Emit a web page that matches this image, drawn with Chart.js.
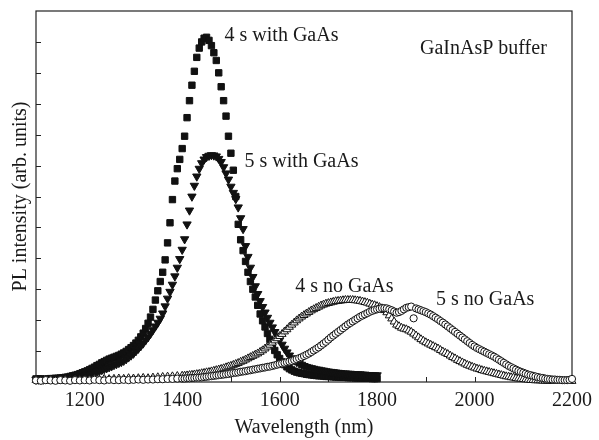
<!DOCTYPE html>
<html>
<head>
<meta charset="utf-8">
<script src="https://cdn.jsdelivr.net/npm/chart.js@4.4.1/dist/chart.umd.min.js"></script>
<style>
html,body{margin:0;padding:0;background:#fff;}
canvas{display:block;}
</style>
</head>
<body>
<canvas id="c" width="599" height="440"></canvas>
<script>
// ---- data ----
const wlFilled = [
  1100,1105,1110,1115,1120,1125,1130,1135,1140,1145,1150,1155,1160,1165,1170,1175,1180,1185,1190,1195,
  1200,1205,1210,1215,1220,1225,1230,1235,1240,1245,1250,1255,1260,1265,1270,1275,1280,1285,1290,1295,
  1300,1305,1310,1315,1320,1325,1330,1335,1340,1345,1350,1355,1360,1365,1370,1375,1380,1385,1390,1395,
  1400,1405,1410,1415,1420,1425,1430,1435,1440,1445,1450,1455,1460,1465,1470,1475,1480,1485,1490,1495,
  1500,1505,1510,1515,1520,1525,1530,1535,1540,1545,1550,1555,1560,1565,1570,1575,1580,1585,1590,1595,
  1600,1605,1610,1615,1620,1625,1630,1635,1640,1645,1650,1655,1660,1665,1670,1675,1680,1685,1690,1695,
  1700,1705,1710,1715,1720,1725,1730,1735,1740,1745,1750,1755,1760,1765,1770,1775,1780,1785,1790,1795,
  1800];

const s4WithGaAs = [
  0.10,0.10,0.10,0.09,0.09,0.10,0.11,0.11,0.12,0.12,0.13,0.14,0.15,0.16,0.18,0.20,0.22,0.24,0.27,0.30,
  0.33,0.36,0.40,0.44,0.48,0.53,0.57,0.62,0.66,0.70,0.74,0.77,0.80,0.83,0.86,0.90,0.94,0.99,1.05,1.11,
  1.18,1.26,1.35,1.46,1.58,1.73,1.90,2.10,2.35,2.65,2.95,3.25,3.55,3.95,4.50,5.15,5.90,6.50,6.90,7.20,
  7.55,7.95,8.55,9.10,9.60,10.05,10.50,10.80,11.00,11.12,11.15,11.05,10.88,10.65,10.40,10.00,9.55,9.10,8.60,7.95,
  7.40,6.85,6.00,5.10,4.60,4.25,3.90,3.55,3.25,3.00,2.75,2.48,2.20,1.98,1.78,1.57,1.38,1.19,1.02,0.88,
  0.76,0.65,0.56,0.49,0.43,0.39,0.35,0.32,0.30,0.28,0.27,0.25,0.24,0.23,0.22,0.21,0.20,0.20,0.19,0.18,
  0.18,0.17,0.17,0.16,0.16,0.15,0.15,0.15,0.14,0.14,0.14,0.13,0.13,0.13,0.12,0.12,0.12,0.12,0.11,0.11,
  0.11];

const s5WithGaAs = [
  0.08,0.08,0.08,0.08,0.09,0.09,0.09,0.09,0.10,0.10,0.10,0.10,0.11,0.11,0.12,0.12,0.13,0.14,0.16,0.18,
  0.21,0.23,0.26,0.28,0.31,0.33,0.36,0.39,0.42,0.45,0.48,0.51,0.55,0.58,0.62,0.65,0.69,0.74,0.80,0.86,
  0.92,1.00,1.08,1.16,1.25,1.35,1.45,1.56,1.68,1.80,1.92,2.05,2.22,2.45,2.70,2.92,3.15,3.42,3.70,3.98,
  4.28,4.62,5.10,5.55,6.00,6.35,6.65,6.90,7.08,7.20,7.28,7.32,7.34,7.33,7.30,7.22,7.12,6.95,6.75,6.55,
  6.32,6.12,5.92,5.65,5.30,4.95,4.40,4.05,3.70,3.40,3.10,2.85,2.62,2.43,2.25,2.08,1.92,1.77,1.62,1.48,
  1.35,1.21,1.08,0.96,0.86,0.77,0.70,0.65,0.60,0.56,0.52,0.49,0.47,0.45,0.43,0.41,0.40,0.38,0.37,0.35,
  0.34,0.33,0.32,0.31,0.30,0.29,0.28,0.28,0.27,0.27,0.26,0.26,0.25,0.25,0.24,0.24,0.23,0.23,0.22,0.22,
  0.22];

const wlOpen = [
  1100,1110,1120,1130,1140,1150,1160,1170,1180,1190,1200,1210,1220,1230,1240,1250,1260,1270,1280,1290,
  1300,1310,1320,1330,1340,1350,1360,1370,1380,1390,
  1400,1405,1410,1415,1420,1425,1430,1435,1440,1445,1450,1455,1460,1465,1470,1475,1480,1485,1490,1495,
  1500,1505,1510,1515,1520,1525,1530,1535,1540,1545,1550,1555,1560,1565,1570,1575,1580,1585,1590,1595,
  1600,1605,1610,1615,1620,1625,1630,1635,1640,1645,1650,1655,1660,1665,1670,1675,1680,1685,1690,1695,
  1700,1705,1710,1715,1720,1725,1730,1735,1740,1745,1750,1755,1760,1765,1770,1775,1780,1785,1790,1795,
  1800,1805,1810,1815,1820,1825,1830,1835,1840,1845,1850,1855,1860,1865,1870,1875,1880,1885,1890,1895,
  1900,1905,1910,1915,1920,1925,1930,1935,1940,1945,1950,1955,1960,1965,1970,1975,1980,1985,1990,1995,
  2000,2005,2010,2015,2020,2025,2030,2035,2040,2045,2050,2055,2060,2065,2070,2075,2080,2085,2090,2095,
  2100,2105,2110,2115,2120,2125,2130,2135,2140,2145,2150,2155,2160,2165,2170,2175,2180,2185,2190,2195,
  2200];

const s4NoGaAs = [
  0.06,0.04,0.05,0.06,0.04,0.05,0.06,0.05,0.07,0.06,0.08,0.07,0.09,0.08,0.10,0.09,0.10,0.11,0.10,0.12,
  0.11,0.12,0.13,0.12,0.14,0.15,0.16,0.17,0.18,0.19,
  0.20,0.20,0.21,0.22,0.23,0.24,0.25,0.26,0.28,0.29,0.31,0.32,0.34,0.36,0.38,0.40,0.42,0.44,0.47,0.50,
  0.52,0.55,0.58,0.61,0.65,0.68,0.72,0.76,0.80,0.84,0.88,0.92,0.97,1.02,1.08,1.14,1.20,1.27,1.34,1.41,
  1.48,1.55,1.63,1.70,1.78,1.85,1.92,1.99,2.05,2.11,2.16,2.21,2.26,2.31,2.35,2.39,2.43,2.47,2.50,2.53,
  2.55,2.57,2.59,2.61,2.62,2.63,2.64,2.65,2.65,2.65,2.65,2.64,2.63,2.62,2.60,2.58,2.56,2.53,2.50,2.48,
  2.45,2.42,2.38,2.32,2.25,2.15,2.05,1.95,1.85,1.80,1.75,1.72,1.70,1.66,1.62,1.56,1.50,1.44,1.38,1.33,
  1.28,1.24,1.20,1.16,1.12,1.08,1.03,0.98,0.94,0.90,0.85,0.80,0.76,0.71,0.67,0.63,0.59,0.55,0.52,0.49,
  0.46,0.43,0.41,0.38,0.36,0.34,0.32,0.30,0.28,0.26,0.24,0.22,0.20,0.18,0.17,0.15,0.14,0.12,0.11,0.10,
  0.09,0.08,0.07,0.06,0.06,0.05,0.05,0.05,0.04,0.04,0.04,0.04,0.03,0.03,0.03,0.03,0.03,0.03,0.03,0.03,
  0.03];

const s5NoGaAs = [
  0.05,0.04,0.06,0.05,0.04,0.06,0.05,0.04,0.06,0.05,0.06,0.05,0.07,0.06,0.05,0.07,0.06,0.06,0.07,0.06,
  0.07,0.08,0.07,0.08,0.08,0.09,0.09,0.10,0.10,0.11,
  0.11,0.11,0.12,0.12,0.13,0.13,0.14,0.14,0.15,0.16,0.17,0.18,0.19,0.20,0.21,0.22,0.23,0.24,0.25,0.26,
  0.28,0.29,0.30,0.31,0.33,0.34,0.35,0.37,0.38,0.40,0.41,0.43,0.44,0.46,0.47,0.49,0.50,0.52,0.54,0.56,
  0.58,0.60,0.62,0.64,0.66,0.68,0.71,0.74,0.77,0.80,0.84,0.88,0.92,0.97,1.02,1.07,1.12,1.18,1.24,1.30,
  1.37,1.44,1.50,1.56,1.62,1.68,1.74,1.80,1.86,1.91,1.96,2.01,2.06,2.11,2.15,2.19,2.23,2.27,2.30,2.33,
  2.35,2.37,2.39,2.39,2.38,2.35,2.32,2.28,2.24,2.26,2.30,2.35,2.40,2.42,2.44,2.06,2.38,2.35,2.32,2.29,
  2.26,2.22,2.18,2.13,2.08,2.03,1.97,1.92,1.86,1.80,1.74,1.68,1.62,1.56,1.50,1.44,1.38,1.32,1.26,1.20,
  1.15,1.10,1.06,1.02,0.98,0.94,0.90,0.86,0.82,0.77,0.72,0.67,0.62,0.57,0.52,0.48,0.44,0.40,0.36,0.33,
  0.30,0.27,0.24,0.22,0.20,0.18,0.16,0.14,0.13,0.11,0.10,0.09,0.08,0.08,0.07,0.07,0.06,0.06,0.06,0.07,
  0.10];

const xTickLabels = [1200,1400,1600,1800,2000,2200];

const labels = [
  {text:'4 s with GaAs', x:1487, y:11.03},
  {text:'5 s with GaAs', x:1528, y:6.94},
  {text:'GaInAsP buffer', x:1888, y:10.6},
  {text:'4 s no GaAs', x:1632, y:2.9},
  {text:'5 s no GaAs', x:1921, y:2.48}
];

// ---- chart ----
const toPts = (xs, ys) => xs.map((x, i) => ({x: x, y: ys[i]}));
const FONT = "'Liberation Serif', 'Times New Roman', serif";
Chart.defaults.font.family = FONT;
Chart.defaults.color = '#1a1a1a';

const frameTicks = {
  id: 'frameTicks',
  beforeDatasetsDraw(chart) {
    const {ctx, chartArea: a, scales: {x, y}} = chart;
    ctx.save();
    ctx.strokeStyle = '#222';
    ctx.lineWidth = 1.2;
    ctx.strokeRect(a.left, a.top, a.right - a.left, a.bottom - a.top);
    ctx.lineWidth = 1;
    ctx.beginPath();
    x.ticks.forEach(t => {
      const px = Math.round(x.getPixelForValue(t.value)) + 0.5;
      if (px <= a.left + 2 || px >= a.right - 2) return;
      ctx.moveTo(px, a.bottom);
      ctx.lineTo(px, a.bottom - 5);
    });
    y.ticks.forEach(t => {
      const py = Math.round(y.getPixelForValue(t.value)) + 0.5;
      if (py <= a.top + 2 || py >= a.bottom - 2) return;
      ctx.moveTo(a.left, py);
      ctx.lineTo(a.left + 5, py);
    });
    ctx.stroke();
    ctx.restore();
  },
  afterDatasetsDraw(chart) {
    const {ctx, scales: {x, y}} = chart;
    ctx.save();
    ctx.font = '20px ' + FONT;
    ctx.fillStyle = '#1a1a1a';
    ctx.textAlign = 'left';
    ctx.textBaseline = 'alphabetic';
    labels.forEach(l => ctx.fillText(l.text, x.getPixelForValue(l.x), y.getPixelForValue(l.y)));
    ctx.restore();
  }
};

const common = {showLine: false, clip: false, borderWidth: 1, borderColor: '#111'};

new Chart(document.getElementById('c'), {
  type: 'scatter',
  data: {
    datasets: [
      Object.assign({label: '5 s no GaAs', data: toPts(wlOpen, s5NoGaAs), pointStyle: 'circle', pointRadius: 3.6, backgroundColor: '#fff', order: 0}, common),
      Object.assign({label: '4 s no GaAs', data: toPts(wlOpen, s4NoGaAs), pointStyle: 'triangle', pointRadius: 4.6, backgroundColor: '#fff', order: 1}, common),
      Object.assign({label: '5 s with GaAs', data: toPts(wlFilled, s5WithGaAs), pointStyle: 'triangle', rotation: 180, pointRadius: 4.8, backgroundColor: '#111', order: 2}, common),
      Object.assign({label: '4 s with GaAs', data: toPts(wlFilled, s4WithGaAs), pointStyle: 'rect', pointRadius: 4.5, backgroundColor: '#111', order: 3}, common)
    ]
  },
  options: {
    responsive: false,
    animation: false,
    devicePixelRatio: 1,
    layout: {padding: {top: 11, right: 22, left: 0, bottom: 0}},
    plugins: {legend: {display: false}, tooltip: {enabled: false}},
    elements: {point: {hoverRadius: 0}},
    scales: {
      x: {
        type: 'linear', min: 1100, max: 2200,
        grid: {display: false, drawTicks: false},
        border: {display: false},
        ticks: {
          stepSize: 100, padding: 7, autoSkip: false, maxRotation: 0,
          font: {size: 20, family: FONT}, color: '#1a1a1a',
          callback: v => xTickLabels.includes(v) ? String(v) : ''
        },
        title: {display: true, text: 'Wavelength (nm)', font: {size: 20, family: FONT}, color: '#1a1a1a', padding: {top: 0, bottom: 0}},
        afterFit: s => { s.height = 58; }
      },
      y: {
        type: 'linear', min: 0, max: 12,
        grid: {display: false, drawTicks: false},
        border: {display: false},
        ticks: {stepSize: 1, display: false},
        title: {display: true, text: 'PL intensity (arb. units)', font: {size: 20, family: FONT}, color: '#1a1a1a', padding: {top: 9, bottom: 0}},
        afterFit: s => { s.width = 36; }
      }
    }
  },
  plugins: [frameTicks]
});
</script>
</body>
</html>
